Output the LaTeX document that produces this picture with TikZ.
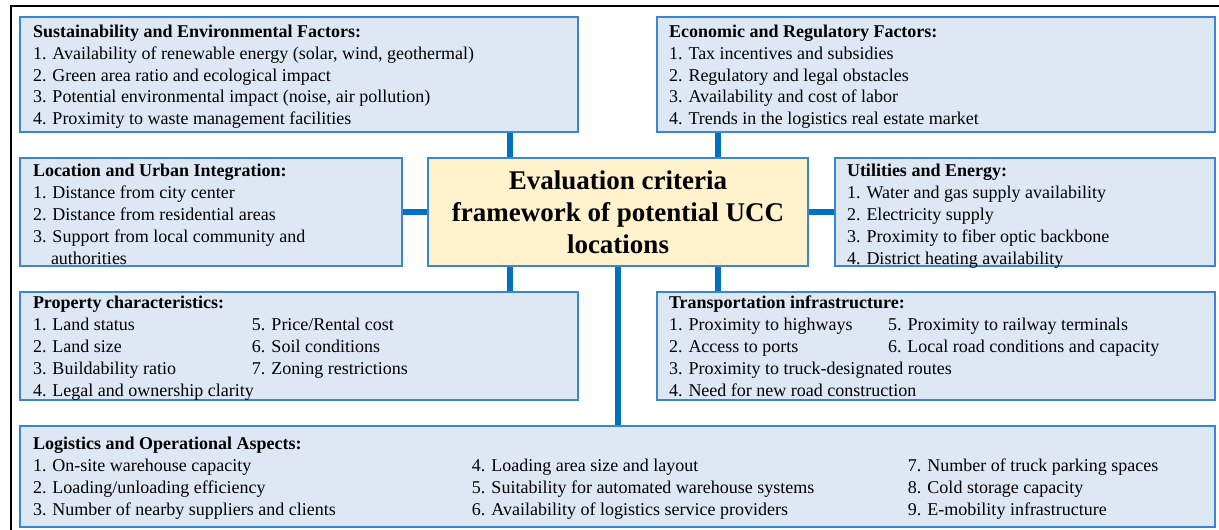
\documentclass[tikz,border=0pt]{standalone}
\usepackage{fontspec}
\setmainfont{Liberation Serif}
\usetikzlibrary{backgrounds}

\definecolor{panelfill}{HTML}{DEE8F5}
\definecolor{panelline}{HTML}{3A86D4}
\definecolor{hubfill}{HTML}{FFF2CC}
\definecolor{linkblue}{HTML}{0070C0}

\begin{document}
\begin{tikzpicture}[x=1pt,y=-1pt,
  panel/.style={rectangle, draw=panelline, fill=panelfill, line width=1.2pt,
                anchor=north west, inner sep=0pt, outer sep=0pt},
  hub/.style={panel, fill=hubfill, align=center,
              font=\bfseries\fontsize{27}{32}\selectfont},
  link/.style={draw=linkblue, line width=5.5pt},
  lines/.style={anchor=base west, inner sep=0pt, outer sep=0pt,
                font=\fontsize{18}{22}\selectfont},
]
\useasboundingbox (0,0) rectangle (1219,530);

% outer frame, running off the page on the right and at the bottom
\begin{scope}
  \clip (0,0) rectangle (1219,530);
  \draw[line width=2.2pt] (11,540) -- (11,6) -- (1230,6);
\end{scope}

% panels
\node[panel, minimum width=558pt, minimum height=115pt] (sus) at (20,17) {};
\node[panel, minimum width=558pt, minimum height=115pt] (eco) at (657,17) {};
\node[panel, minimum width=382pt, minimum height=108pt] (loc) at (20,158) {};
\node[hub,   minimum width=380pt, minimum height=108pt] (hub) at (428,158)
  {Evaluation criteria\\framework of potential UCC\\locations};
\node[panel, minimum width=380pt, minimum height=108pt] (uti) at (835,158) {};
\node[panel, minimum width=558pt, minimum height=108pt] (pro) at (20,292) {};
\node[panel, minimum width=558pt, minimum height=108pt] (tra) at (657,292) {};
\node[panel, minimum width=1195pt, minimum height=101pt] (log) at (20,426) {};

% panel texts
\node[lines] (sustxt) at ([xshift=13pt,yshift=-20pt]sus.north west) {%
  \begin{tabular}[t]{@{}l@{}}
  \textbf{Sustainability and Environmental Factors:}\\
  1. Availability of renewable energy (solar, wind, geothermal)\\
  2. Green area ratio and ecological impact\\
  3. Potential environmental impact (noise, air pollution)\\
  4. Proximity to waste management facilities
  \end{tabular}};

\node[lines] (ecotxt) at ([xshift=12pt,yshift=-20pt]eco.north west) {%
  \begin{tabular}[t]{@{}l@{}}
  \textbf{Economic and Regulatory Factors:}\\
  1. Tax incentives and subsidies\\
  2. Regulatory and legal obstacles\\
  3. Availability and cost of labor\\
  4. Trends in the logistics real estate market
  \end{tabular}};

\node[lines] (loctxt) at ([xshift=13pt,yshift=-18pt]loc.north west) {%
  \begin{tabular}[t]{@{}l@{}}
  \textbf{Location and Urban Integration:}\\
  1. Distance from city center\\
  2. Distance from residential areas\\
  3. Support from local community and\\
  \phantom{3.}\ authorities
  \end{tabular}};

\node[lines] (utitxt) at ([xshift=12pt,yshift=-18pt]uti.north west) {%
  \begin{tabular}[t]{@{}l@{}}
  \textbf{Utilities and Energy:}\\
  1. Water and gas supply availability\\
  2. Electricity supply\\
  3. Proximity to fiber optic backbone\\
  4. District heating availability
  \end{tabular}};

\node[lines] (protxt) at ([xshift=13pt,yshift=-16pt]pro.north west) {%
  \begin{tabular}[t]{@{}p{219pt}@{}l@{}}
  \multicolumn{2}{@{}l@{}}{\textbf{Property characteristics:}}\\
  1. Land status & 5. Price/Rental cost\\
  2. Land size & 6. Soil conditions\\
  3. Buildability ratio & 7. Zoning restrictions\\
  \multicolumn{2}{@{}l@{}}{4. Legal and ownership clarity}
  \end{tabular}};

\node[lines] (tratxt) at ([xshift=12pt,yshift=-16pt]tra.north west) {%
  \begin{tabular}[t]{@{}p{219pt}@{}l@{}}
  \multicolumn{2}{@{}l@{}}{\textbf{Transportation infrastructure:}}\\
  1. Proximity to highways & 5. Proximity to railway terminals\\
  2. Access to ports & 6. Local road conditions and capacity\\
  \multicolumn{2}{@{}l@{}}{3. Proximity to truck-designated routes}\\
  \multicolumn{2}{@{}l@{}}{4. Need for new road construction}
  \end{tabular}};

\node[lines] (logtxt) at ([xshift=13pt,yshift=-23pt]log.north west) {%
  \begin{tabular}[t]{@{}p{439pt}@{}p{436pt}@{}l@{}}
  \multicolumn{3}{@{}l@{}}{\textbf{Logistics and Operational Aspects:}}\\
  1. On-site warehouse capacity & 4. Loading area size and layout & 7. Number of truck parking spaces\\
  2. Loading/unloading efficiency & 5. Suitability for automated warehouse systems & 8. Cold storage capacity\\
  3. Number of nearby suppliers and clients & 6. Availability of logistics service providers & 9. E-mobility infrastructure
  \end{tabular}};

% connectors from the hub to the panels
\coordinate (tapL)  at ([xshift=82pt]hub.north west);
\coordinate (tapR)  at ([xshift=290pt]hub.north west);
\coordinate (tapLb) at ([xshift=82pt]hub.south west);
\coordinate (tapRb) at ([xshift=290pt]hub.south west);
\begin{scope}[on background layer]
  \draw[link] (tapL) -- (tapL |- sus.south);
  \draw[link] (tapR) -- (tapR |- eco.south);
  \draw[link] (loc.east) -- (hub.west);
  \draw[link] (hub.east) -- (uti.west);
  \draw[link] (tapLb) -- (tapLb |- pro.north);
  \draw[link] (tapRb) -- (tapRb |- tra.north);
  \draw[link] (hub.south) -- (hub.south |- log.north);
\end{scope}
\end{tikzpicture}
\end{document}
